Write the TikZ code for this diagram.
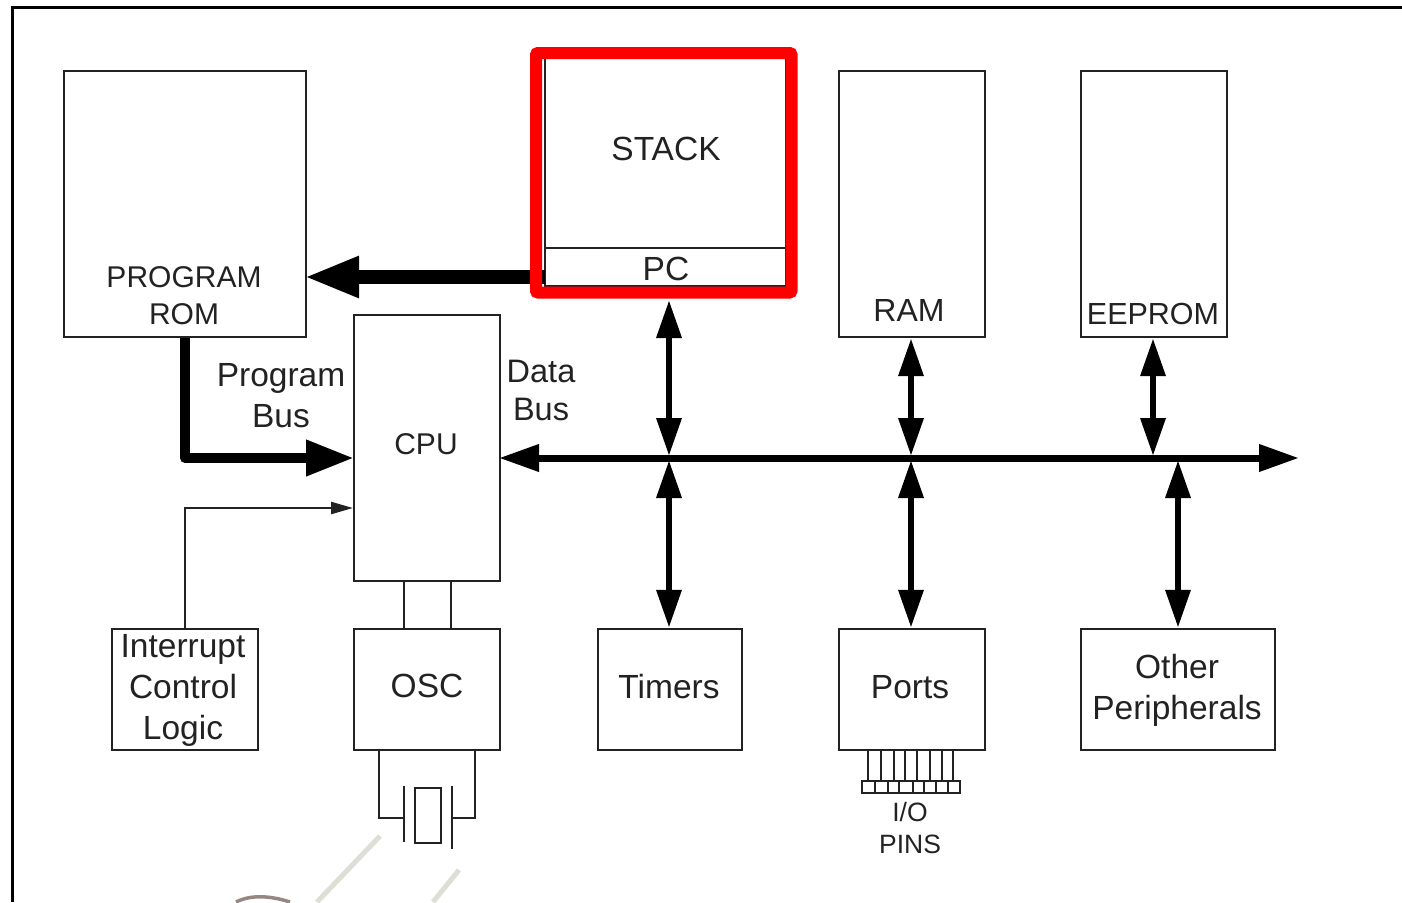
\documentclass[tikz,border=0pt]{standalone}
\usepackage{fontspec}
\setmainfont{Liberation Sans}
\usetikzlibrary{positioning, arrows.meta, calc}
\definecolor{stackred}{RGB}{255,0,0}
\definecolor{inkgrey}{RGB}{34,34,34}
\definecolor{scratch}{RGB}{222,222,214}
\definecolor{smudge}{RGB}{150,135,130}
\tikzset{
    blockbox/.style={draw=inkgrey, line width=2.4pt, inner sep=0pt, align=center, font=\fontsize{33.5}{41}\selectfont, text=inkgrey},
    blocktxt/.style={inner sep=0pt, align=center, font=\fontsize{33.5}{41}\selectfont, text=inkgrey},
    smalltxt/.style={inner sep=0pt, align=center, font=\fontsize{26.5}{32}\selectfont, text=inkgrey},
    wire/.style={draw=inkgrey, line width=2.4pt},
    membus/.style={-{Triangle[length=55pt, width=38pt]}, line width=14pt, black},
    progbus/.style={-{Triangle[length=48pt, width=34pt]}, line width=10pt, black},
    databus/.style={{Triangle[length=40pt, width=26pt]}-{Triangle[length=40pt, width=26pt]}, line width=7pt, black},
    tapbus/.style={{Triangle[length=38pt, width=24pt]}-{Triangle[length=38pt, width=24pt]}, line width=6.5pt, black},
    irqline/.style={-{Triangle[length=22pt, width=12pt]}, line width=2.4pt, inkgrey}
}
\begin{document}
\begin{tikzpicture}[x=1pt, y=-1pt]
    \useasboundingbox (0,0) rectangle (1402,902);
    % Outer frame, cut by the picture edge
    \draw[line width=3pt, black] (12,902) -- (12,7) -- (1402,7);

    % Top row of blocks
    \node[blockbox, minimum width=242, minimum height=266] (rom) at (185,204) {};
    \node[blockbox, minimum width=146, minimum height=266] (ram) at (912,204) {};
    \node[blockbox, minimum width=146, minimum height=266] (eeprom) at (1154,204) {};
    \node[blocktxt, font=\fontsize{30}{37}\selectfont] (romtxt) at (184,296) {PROGRAM\\ROM};
    \node[blocktxt, font=\fontsize{32}{38}\selectfont] (ramtxt) at (909,310) {RAM};
    \node[blocktxt, font=\fontsize{30.5}{34}\selectfont] (eepromtxt) at (1153,314) {EEPROM};

    % Stack and program counter
    \node[blockbox, minimum width=241, minimum height=190] (stack) at (665.5,153) {};
    \node[blockbox, minimum width=241, minimum height=38] (pc) at (665.5,267) {};
    \node[blocktxt] (stacktxt) at (666,149) {STACK};
    \node[blocktxt] (pctxt) at (666,269) {PC};

    % Middle and bottom rows
    \node[blockbox, minimum width=146, minimum height=266] (cpu) at (427,448) {};
    \node[blocktxt, font=\fontsize{30}{37}\selectfont] (cputxt) at (426,444) {CPU};
    \node[blockbox, minimum width=146, minimum height=121] (irq) at (185,689.5) {};
    \node[blocktxt] (irqtxt) at (183,690) {Interrupt\\Control\\Logic};
    \node[blockbox, minimum width=146, minimum height=121] (osc) at (427,689.5) {};
    \node[blocktxt] (osctxt) at (427,686) {OSC};
    \node[blockbox, minimum width=144, minimum height=121] (timers) at (670,689.5) {};
    \node[blocktxt] (timerstxt) at (669,687) {Timers};
    \node[blockbox, minimum width=146, minimum height=121] (ports) at (912,689.5) {};
    \node[blocktxt] (portstxt) at (910,687) {Ports};
    \node[blockbox, minimum width=194, minimum height=121] (other) at (1178,689.5) {};
    \node[blocktxt] (othertxt) at (1177,690) {Other\\Peripherals};

    % Free labels
    \node[blocktxt] (progtxt) at (281,396) {Program\\Bus};
    \node[blocktxt, font=\fontsize{32.5}{38}\selectfont] (datatxt) at (541,390) {Data\\Bus};
    \node[smalltxt] (iotxt) at (910,828) {I/O\\PINS};

    % Bus end points
    \coordinate (busl) at (499,458);
    \coordinate (busr) at (1299,458);
    \coordinate (cpuin) at (354,458);
    \coordinate (irqin) at (353,508);
    \coordinate (pcout) at (545,277);
    \coordinate (romin) at (304,277);
    \coordinate (pcbot) at (669,300);
    \coordinate (tapa) at (669,456);
    \coordinate (tapb) at (669,460);
    \coordinate (tapc) at (911,456);
    \coordinate (tapd) at (911,460);
    \coordinate (tape) at (1153,456);
    \coordinate (tapf) at (1178,460);

    % Buses
    \draw[membus] (pcout) -- (romin);
    \draw[progbus, line join=round] (rom.south) |- (cpuin);
    \draw[databus] (busl) -- (busr);
    \draw[tapbus] (pcbot) -- (tapa);
    \draw[tapbus] (tapb) -- (timers.north -| tapb);
    \draw[tapbus] (ram.south -| tapc) -- (tapc);
    \draw[tapbus] (tapd) -- (ports.north -| tapd);
    \draw[tapbus] (eeprom.south -| tape) -- (tape);
    \draw[tapbus] (tapf) -- (other.north -| tapf);
    \draw[irqline] (irq.north) |- (irqin);

    % CPU to oscillator
    \draw[wire] (404,581) -- (404,629);
    \draw[wire] (451,581) -- (451,629);

    % Crystal
    \draw[wire] (379,750) |- (404,818);
    \draw[wire] (475,750) |- (452,818);
    \draw[wire] (404,786) -- (404,842);
    \draw[wire] (452,786) -- (452,849);
    \draw[wire] (415,788) rectangle (441,843);

    % I/O pins
    \foreach \px in {868,881,894,905,917,930,942,953}
        \draw[wire] (\px,750) -- (\px,781);
    \draw[wire] (862,781) rectangle (960,793);
    \foreach \px in {875,888,899,913,924,936,948}
        \draw[wire] (\px,781) -- (\px,793);

    % Highlight round stack and PC
    \draw[stackred, line width=12pt, rounded corners=2pt] (536,53) rectangle (791.5,292.5);

    % Scratches at the lower edge
    \draw[scratch, line width=5pt] (317,902) -- (380,836);
    \draw[scratch, line width=5pt] (433,902) -- (459,870);
    \draw[smudge, line width=3.5pt] (236,902) .. controls (250,895) and (268,895) .. (290,902);
\end{tikzpicture}
\end{document}
